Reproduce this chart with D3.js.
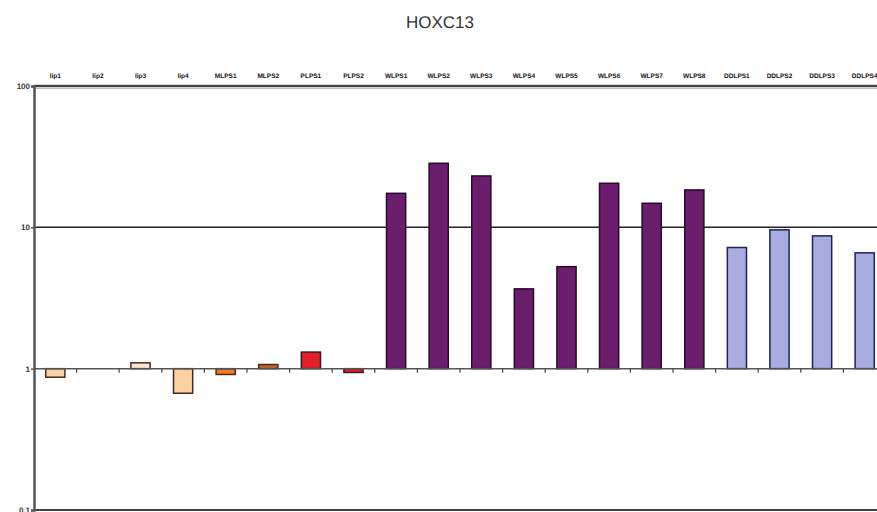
<!DOCTYPE html>
<head>
  <meta charset="utf-8">
  <script src="https://d3js.org/d3.v7.min.js"></script>
  <style>
    body { margin:0; background:#fff; overflow:hidden; }
    text { font-family: "Liberation Sans", Arial, sans-serif; -webkit-font-smoothing: antialiased; text-rendering: geometricPrecision; }
  </style>
</head>
<body>
<script>

// samples across the top, and fold change (log scale, baseline 1)
var samples = ["lip1","lip2","lip3","lip4","MLPS1","MLPS2","PLPS1","PLPS2",
               "WLPS1","WLPS2","WLPS3","WLPS4","WLPS5","WLPS6","WLPS7","WLPS8",
               "DDLPS1","DDLPS2","DDLPS3","DDLPS4"];
var values = [0.87, 1.0, 1.1, 0.67, 0.91, 1.07, 1.31, 0.94,
              17.4, 28.4, 23.1, 3.67, 5.27, 20.5, 14.8, 18.4,
              7.2, 9.6, 8.7, 6.6];
var fills = ["#fcd3a6","#fcd3a6","#f7e6d2","#fdd1a1","#ec7b2b","#c0672f","#e2202a","#e2202a",
             "#6b1e6e","#6b1e6e","#6b1e6e","#6b1e6e","#6b1e6e","#6b1e6e","#6b1e6e","#6b1e6e",
             "#a9acdf","#a9acdf","#a9acdf","#a9acdf"];
var strokes = ["#4a2a1a","#4a2a1a","#4a2a1a","#4a2a1a","#4a2a1a","#4a2a1a","#3a1a1a","#3a1a1a",
               "#2a0a2a","#2a0a2a","#2a0a2a","#2a0a2a","#2a0a2a","#2a0a2a","#2a0a2a","#2a0a2a",
               "#1c2160","#1c2160","#1c2160","#1c2160"];
var yTicks = [0.1, 1, 10, 100];
var yTickLabels = ["0.1", "1", "10", "100"];

var W = 877, H = 512;
var left = 34;

var svg = d3.select("body").append("svg")
    .attr("width", W)
    .attr("height", H);

var x = d3.scaleBand()
    .domain(samples)
    .range([left, left + 20 * 42.6])
    .paddingInner(0.55)
    .paddingOuter(0.275);

var y = d3.scaleLog()
    .domain([0.1, 100])
    .range([510, 86]);

// title
svg.append("text")
    .attr("x", 440).attr("y", 28)
    .attr("text-anchor", "middle")
    .attr("font-size", 17)
    .attr("fill", "#333")
    .text("HOXC13");

// gridline at 10
svg.append("line")
    .attr("x1", left).attr("x2", W)
    .attr("y1", y(10)).attr("y2", y(10))
    .attr("stroke", "#222").attr("stroke-width", 1.5);

// bars, from baseline 1
svg.selectAll(".bar")
  .data(values)
  .enter().append("rect")
    .attr("class", "bar")
    .attr("x", function(d, i){ return x(samples[i]); })
    .attr("width", x.bandwidth())
    .attr("y", function(d){ return Math.min(y(d), y(1)); })
    .attr("height", function(d){ return Math.abs(y(d) - y(1)); })
    .attr("fill", function(d, i){ return fills[i]; })
    .attr("stroke", function(d, i){ return strokes[i]; })
    .attr("stroke-width", 1.5);

// baseline at 1 with category boundary ticks
svg.append("line")
    .attr("x1", left).attr("x2", W)
    .attr("y1", y(1)).attr("y2", y(1))
    .attr("stroke", "#555").attr("stroke-width", 1.5);
svg.selectAll(".btick")
  .data(samples.slice(1))
  .enter().append("line")
    .attr("class", "btick")
    .attr("x1", function(d){ return x(d) - x.step() * x.paddingInner() / 2; })
    .attr("x2", function(d){ return x(d) - x.step() * x.paddingInner() / 2; })
    .attr("y1", y(1)).attr("y2", y(1) + 4)
    .attr("stroke", "#444").attr("stroke-width", 1.2);

// top line at 100 (double rule look)
svg.append("line")
    .attr("x1", left).attr("x2", W)
    .attr("y1", y(100)).attr("y2", y(100))
    .attr("stroke", "#444").attr("stroke-width", 2.5);
svg.append("line")
    .attr("x1", left).attr("x2", W)
    .attr("y1", y(100) + 2.5).attr("y2", y(100) + 2.5)
    .attr("stroke", "#bbb").attr("stroke-width", 1);

// bottom line at 0.1
svg.append("line")
    .attr("x1", left).attr("x2", W)
    .attr("y1", y(0.1)).attr("y2", y(0.1))
    .attr("stroke", "#444").attr("stroke-width", 2);

// y axis
var yAxis = svg.append("g")
    .attr("transform", "translate(" + left + ",0)")
    .call(d3.axisLeft(y).tickValues(yTicks)
        .tickFormat(function(d, i){ return yTickLabels[i]; })
        .tickSize(3).tickPadding(1));
yAxis.select(".domain").attr("stroke", "#555").attr("stroke-width", 2.5);
yAxis.selectAll(".tick line").attr("stroke", "#555").attr("stroke-width", 1.5);
yAxis.selectAll(".tick text")
    .attr("font-family", "Liberation Sans, Arial, sans-serif")
    .attr("font-size", 8).attr("font-weight", "bold").attr("fill", "#333");

// category labels along the top
svg.selectAll(".cat")
  .data(samples)
  .enter().append("text")
    .attr("class", "cat")
    .attr("x", function(d){ return x(d) + x.bandwidth() / 2; })
    .attr("y", 78)
    .attr("text-anchor", "middle")
    .attr("font-size", 6.5)
    .attr("font-weight", "bold")
    .attr("fill", "#111")
    .text(function(d){ return d; });

</script>
</body>
